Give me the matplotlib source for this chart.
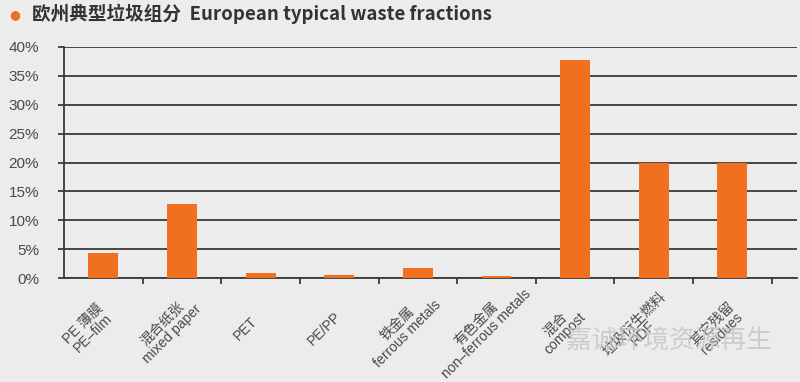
import matplotlib
matplotlib.use("Agg")
import matplotlib.pyplot as plt
from matplotlib.ticker import FuncFormatter, FixedLocator, NullFormatter

plt.rcParams['font.family'] = ['Liberation Sans', 'Noto Sans CJK SC', 'DejaVu Sans']

categories = ["PE 薄膜\nPE–film", "混合纸张\nmixed paper", "PET", "PE/PP",
              "铁金属\nferrous metals", "有色金属\nnon–ferrous metals",
              "混合\ncompost", "垃圾衍生燃料\nRDF", "其它残留\nresidues"]
values = [4.3, 12.8, 0.8, 0.5, 1.8, 0.3, 37.8, 20.0, 20.0]
yticks = [0, 5, 10, 15, 20, 25, 30, 35, 40]

bg = "#ececec"
bar_color = "#f07020"
dark = "#3a3a3a"
text_c = "#4a4a4a"

fig = plt.figure(figsize=(8, 3.82), dpi=100, facecolor=bg)
ax = fig.add_axes([0.08, 0.272, 0.916, 0.605], facecolor=bg)

x = list(range(len(categories)))
ax.bar(x, values, width=0.38, color=bar_color, zorder=3)

ax.set_ylim(0, 40)
ax.set_xlim(-0.5, 8.82)
ax.set_yticks(yticks)
ax.yaxis.set_major_formatter(FuncFormatter(lambda v, p: f"{int(v)}%"))
ax.grid(axis='y', color=dark, linewidth=1.3, zorder=1)
ax.tick_params(axis='y', length=4, width=1.3, color=dark, labelsize=11,
               labelcolor=text_c, pad=14)

# category boundary ticks
ax.xaxis.set_major_locator(FixedLocator([i + 0.5 for i in range(len(categories))]))
ax.xaxis.set_major_formatter(NullFormatter())
ax.tick_params(axis='x', length=4, width=1.3, color=dark)

for s in ['top', 'right']:
    ax.spines[s].set_visible(False)
ax.spines['left'].set_color(dark)
ax.spines['left'].set_linewidth(1.3)
ax.spines['bottom'].set_color(dark)
ax.spines['bottom'].set_linewidth(1.3)

for i, lab in enumerate(categories):
    ax.annotate(lab, xy=(i, 0), xycoords=('data', 'axes fraction'),
                xytext=(-10.8, -36.5), textcoords='offset points',
                rotation=45, ha='center', va='center', rotation_mode='anchor',
                multialignment='center', fontsize=10, color=text_c,
                linespacing=0.95)

# title
fig.text(0.012, 0.963, "●", color=bar_color, fontsize=9, va='center', ha='left',
         family=['DejaVu Sans'])
fig.text(0.040, 0.963, "欧州典型垃圾组分  European typical waste fractions",
         fontsize=13.4, fontweight='bold', color="#333333", va='center', ha='left',
         family=['Noto Sans CJK SC', 'DejaVu Sans'])

# watermark
fig.text(0.708, 0.107, "嘉诚环境资源再生", fontsize=18.5, color="#c4c4c4",
         alpha=0.8, va='center', ha='left', family=['Noto Sans CJK SC'])

fig.savefig("out.png", dpi=100, facecolor=bg)
